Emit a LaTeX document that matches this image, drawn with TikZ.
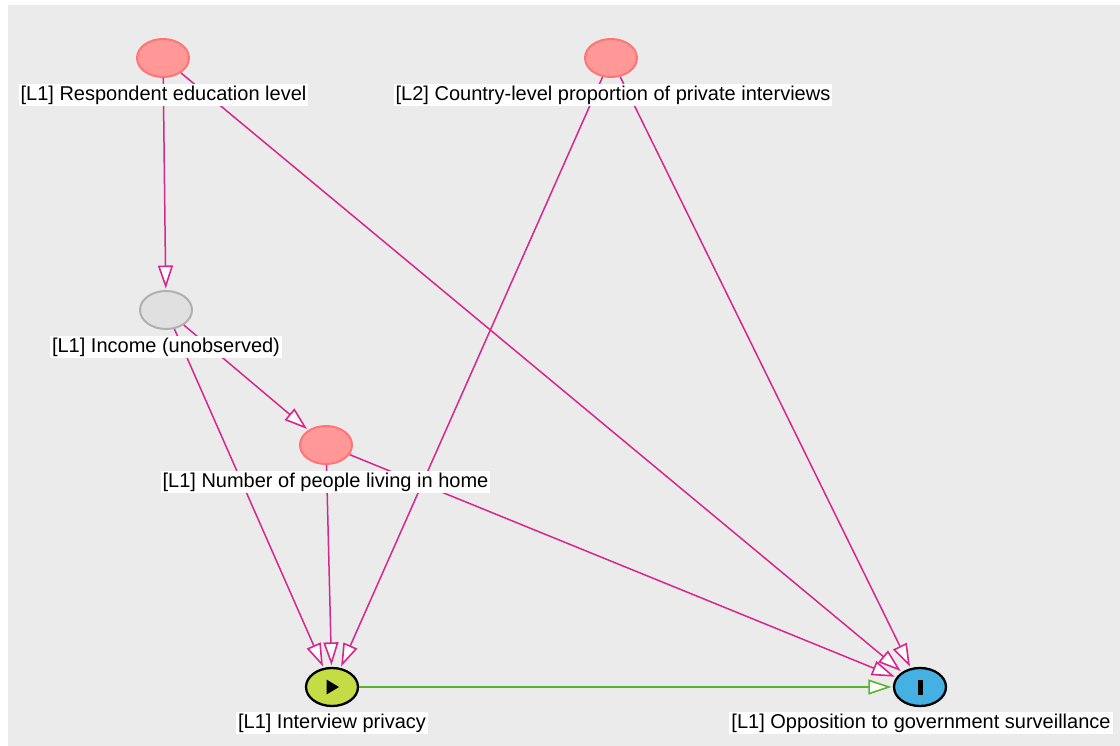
\documentclass[tikz,border=0pt]{standalone}
\usepackage{fontspec}
\setmainfont{Liberation Sans}
\usetikzlibrary{arrows.meta,shapes.geometric}
\definecolor{bg}{HTML}{EBEBEB}
\definecolor{pinkfill}{HTML}{FF9896}
\definecolor{pinkdraw}{HTML}{FF7575}
\definecolor{grayfill}{HTML}{E0E0E0}
\definecolor{graydraw}{HTML}{B0B0B0}
\definecolor{expfill}{HTML}{C5DC45}
\definecolor{outfill}{HTML}{45B1E3}
\definecolor{edgecol}{HTML}{D6278C}
\definecolor{causal}{HTML}{5AB52E}
\tikzset{
  var/.style={ellipse, minimum width=52pt, minimum height=38pt, inner sep=0pt},
  adj/.style={var, fill=pinkfill, draw=pinkdraw, line width=2pt},
  unobs/.style={var, fill=grayfill, draw=graydraw, line width=2pt},
  expo/.style={var, fill=expfill, draw=black, line width=2.3pt},
  outc/.style={var, fill=outfill, draw=black, line width=2.3pt},
  lbl/.style={fill=white, inner xsep=2pt, inner ysep=1.5pt, text height=15pt, text depth=4.5pt, font=\fontsize{20pt}{22pt}\selectfont},
  opentip/.style={-{Triangle[fill=white, length=23pt, width=15pt, line width=1.6pt]}, shorten >=1.5pt},
  biasing/.style={draw=edgecol, line width=1.5pt, opentip},
  causaledge/.style={draw=causal, line width=1.5pt, opentip}
}
\begin{document}
\begin{tikzpicture}[x=1pt, y=-1pt]
\useasboundingbox (0,0) rectangle (1120,746);
\fill[bg] (8,5) rectangle (1120,746);
% variables
\node[adj] (edu) at (163,58) {};
\node[adj] (cty) at (611,58) {};
\node[unobs] (inc) at (166,310) {};
\node[adj] (num) at (326,445) {};
\node[expo] (priv) at (332,687) {};
\node[outc] (opp) at (920,687) {};
% symbols
\fill[black] (326.5,679.5) -- (339,687) -- (326.5,694.5) -- cycle;
\fill[black] (918,680) rectangle (923,695);
% edges
\draw[biasing] (edu) -- (inc);
\draw[biasing] (edu) -- (opp);
\draw[biasing] (cty) -- (priv);
\draw[biasing] (cty) -- (opp);
\draw[biasing] (inc) -- (num);
\draw[biasing] (inc) -- (priv);
\draw[biasing] (num) -- (priv);
\draw[biasing] (num) -- (opp);
\draw[causaledge] (priv) -- (opp);
% labels
\node[lbl] (edul) at (163.5,95) {[L1] Respondent education level};
\node[lbl] (ctyl) at (613,95) {[L2] Country-level proportion of private interviews};
\node[lbl] (incl) at (166,347) {[L1] Income (unobserved)};
\node[lbl] (numl) at (325.5,482) {[L1] Number of people living in home};
\node[lbl] (privl) at (332,723) {[L1] Interview privacy};
\node[lbl] (oppl) at (921,723) {[L1] Opposition to government surveillance};
\end{tikzpicture}
\end{document}
